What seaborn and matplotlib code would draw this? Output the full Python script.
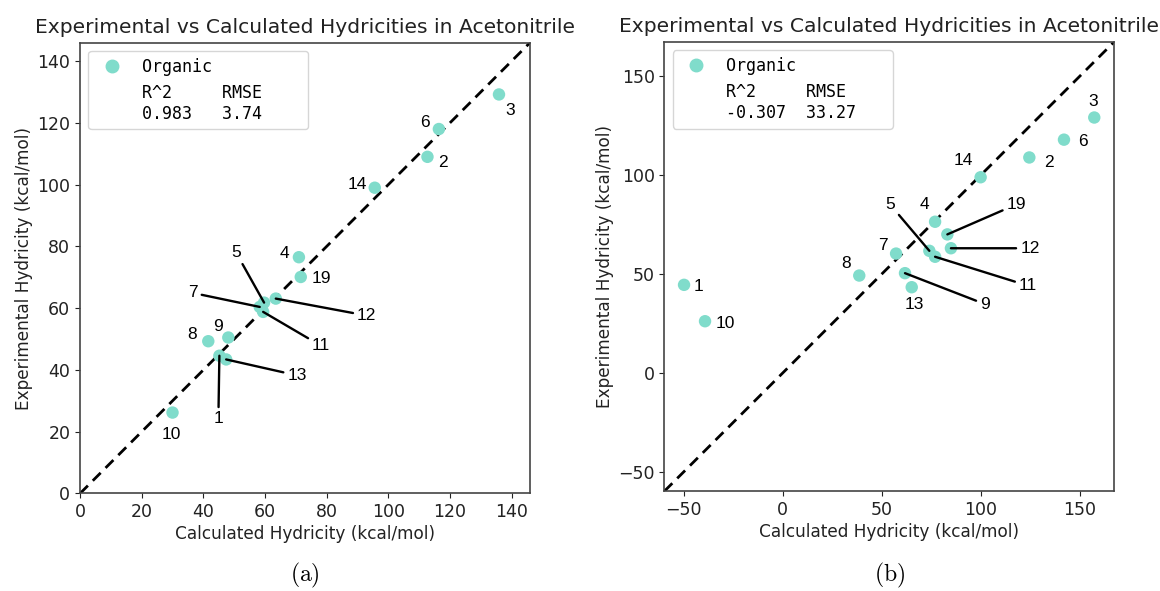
import numpy as np
import pandas as pd
import seaborn as sns
import matplotlib.pyplot as plt
from matplotlib.lines import Line2D

# compound ids and hydricities (kcal/mol)
compounds = ["1", "2", "3", "4", "5", "6", "7", "8", "9", "10", "11", "12", "13", "14", "19"]
exp_hydricity = [44.6, 109.0, 129.2, 76.5, 61.8, 118.0, 60.4, 49.3, 50.5, 26.2, 58.8, 63.1, 43.4, 99.0, 70.1]
calc_hydricity_a = [45.2, 112.7, 135.9, 71.0, 59.7, 116.4, 58.3, 41.6, 48.1, 30.0, 59.4, 63.5, 47.4, 95.6, 71.6]
calc_hydricity_b = [-49.8, 124.6, 157.4, 77.0, 74.1, 142.1, 57.3, 38.7, 61.8, -39.2, 77.0, 85.0, 65.2, 100.0, 83.2]

stats_a = ["0.983", "3.74"]
stats_b = ["-0.307", "33.27"]

# label offsets in pixels (dx, dy) and whether a leader line is drawn
offsets_a = {"1": (-1, -63, True), "2": (15, -6, False), "3": (11, -16, False), "4": (-14, 4, False),
             "5": (-28, 50, True), "6": (-14, 7, False), "7": (-67, 14, True), "8": (-16, 7, False),
             "9": (-10, 11, False), "10": (-1, -22, False), "11": (58, -34, True), "12": (91, -17, True),
             "13": (71, -16, True), "14": (-17, 3, False), "19": (21, -2, False)}
offsets_b = {"1": (14, -2, False), "2": (20, -5, False), "3": (-1, 16, False), "4": (-11, 17, False),
             "5": (-39, 46, True), "6": (19, -2, False), "7": (-13, 8, False), "8": (-13, 12, False),
             "9": (80, -31, True), "10": (20, -2, False), "11": (93, -29, True), "12": (79, 0, True),
             "13": (3, -17, False), "14": (-17, 17, False), "19": (69, 30, True)}

point_color = "#80dccb"
text_color = "#222222"


def hydricity_panel(ax, calc, stats, offsets, lims, ticks, caption):
    df = pd.DataFrame({"calc": calc, "exp": exp_hydricity, "id": compounds})
    ax.plot(lims, lims, color="black", linestyle="--", linewidth=2, dashes=(4, 2.5), zorder=1)
    sns.scatterplot(data=df, x="calc", y="exp", ax=ax, color=point_color, s=80,
                    edgecolor="none", zorder=2, legend=False)
    for _, row in df.iterrows():
        dx, dy, line = offsets[row["id"]]
        arrow = dict(arrowstyle="-", color="black", lw=1.7, shrinkA=1, shrinkB=0) if line else None
        ax.annotate(row["id"], (row["calc"], row["exp"]), xytext=(dx, dy), textcoords="offset pixels",
                    ha="center", va="center", fontsize=12.5, family="Liberation Sans",
                    arrowprops=arrow, zorder=3)
    ax.set_xlim(lims)
    ax.set_ylim(lims)
    ax.set_xticks(ticks)
    ax.set_yticks(ticks)
    ax.tick_params(labelsize=12.5, colors=text_color)
    ax.set_xlabel("Calculated Hydricity (kcal/mol)", fontsize=12.2, color=text_color, labelpad=3)
    ax.set_ylabel("Experimental Hydricity (kcal/mol)", fontsize=12.2, color=text_color, labelpad=3)
    ax.set_title("Experimental vs Calculated Hydricities in Acetonitrile", fontsize=14.6,
                 color=text_color, pad=7)
    for sp in ax.spines.values():
        sp.set_color("#444444")
        sp.set_linewidth(1.2)

    handles = [Line2D([], [], marker="o", linestyle="none", markersize=9, color=point_color),
               Line2D([], [], linestyle="none")]
    stat_label = ("R^2".ljust(8) + "RMSE").ljust(16) + "\n" + (stats[0].ljust(8) + stats[1]).ljust(16)
    ax.legend(handles, ["Organic", stat_label], loc="upper left",
              prop={"family": "DejaVu Sans Mono", "size": 12}, labelspacing=0.5)

    pos = ax.get_position()
    ax.figure.text(pos.x0 + pos.width / 2, 0.027, caption, ha="center", va="center", fontsize=17)


plt.rcParams["mathtext.fontset"] = "cm"
fig = plt.figure(figsize=(11.6, 5.91), dpi=100)
ax_a = fig.add_axes([0.069, 0.165, 0.388, 0.763])
ax_b = fig.add_axes([0.5728, 0.169, 0.3876, 0.760])

hydricity_panel(ax_a, calc_hydricity_a, stats_a, offsets_a, (0, 146), np.arange(0, 141, 20), r"$\mathrm{(a)}$")
hydricity_panel(ax_b, calc_hydricity_b, stats_b, offsets_b, (-59.7, 167.4), np.arange(-50, 151, 50),
                r"$\mathrm{(b)}$")

fig.savefig("out.png", dpi=100)
